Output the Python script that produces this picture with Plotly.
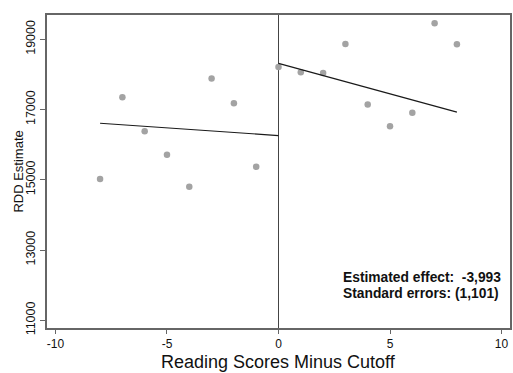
import plotly.graph_objects as go

# Binned scatter points
x_left = [-8, -7, -6, -5, -4, -3, -2, -1]
y_left = [15020, 17350, 16385, 15710, 14800, 17880, 17180, 15370]
x_right = [0, 1, 2, 3, 4, 5, 6, 7, 8]
y_right = [18210, 18060, 18040, 18865, 17140, 16525, 16905, 19455, 18860]

# Fitted lines (endpoints)
fit_left_x = [-8, 0]
fit_left_y = [16610, 16260]
fit_right_x = [0, 8]
fit_right_y = [18315, 16925]

y_ticks = [11000, 13000, 15000, 17000, 19000]
x_ticks = [-10, -5, 0, 5, 10]

fig = go.Figure()
fig.add_trace(go.Scatter(x=x_left + x_right, y=y_left + y_right, mode="markers",
                         marker=dict(color="#a3a3a3", size=6.5), showlegend=False))
fig.add_trace(go.Scatter(x=fit_left_x, y=fit_left_y, mode="lines",
                         line=dict(color="#1a1a1a", width=1.2), showlegend=False))
fig.add_trace(go.Scatter(x=fit_right_x, y=fit_right_y, mode="lines",
                         line=dict(color="#1a1a1a", width=1.2), showlegend=False))

fig.add_annotation(x=0.636, y=0.160, xref="paper", yref="paper", xanchor="left", yanchor="middle",
                   text="<b>Estimated effect:&nbsp; -3,993</b>", showarrow=False,
                   font=dict(family="Arial", size=13.8, color="#111"))
fig.add_annotation(x=0.636, y=0.109, xref="paper", yref="paper", xanchor="left", yanchor="middle",
                   text="<b>Standard errors: (1,101)</b>", showarrow=False,
                   font=dict(family="Arial", size=13.8, color="#111"))
# Axis titles
fig.add_annotation(x=0.5, y=-0.110, xref="paper", yref="paper", xanchor="center", yanchor="middle",
                   text="Reading Scores Minus Cutoff", showarrow=False,
                   font=dict(family="Arial", size=18, color="#111"))
fig.add_annotation(x=-0.0624, y=0.5, xref="paper", yref="paper", xanchor="center", yanchor="middle",
                   text="RDD Estimate", textangle=-90, showarrow=False,
                   font=dict(family="Arial", size=13, color="#111"))

fig.update_layout(
    width=513, height=373,
    margin=dict(l=47, r=1, t=15, b=45),
    paper_bgcolor="white", plot_bgcolor="white",
    font=dict(family="Arial", color="#111"),
    xaxis=dict(range=[-10.38, 10.38], tickvals=x_ticks, ticktext=[str(v) for v in x_ticks],
               showgrid=False, zeroline=True, zerolinecolor="#444", zerolinewidth=1.3,
               showline=True, linecolor="#666", linewidth=1.5, mirror=True,
               ticks="outside", ticklen=4, tickcolor="#666", tickfont=dict(size=12)),
    yaxis=dict(range=[10781, 19691], tickvals=y_ticks, ticktext=[str(v) for v in y_ticks],
               showgrid=False, zeroline=False,
               showline=True, linecolor="#666", linewidth=1.5, mirror=True,
               ticks="outside", ticklen=5, tickcolor="#666", tickangle=-90, tickfont=dict(size=12.5)),
)

fig.write_html("out.html")
